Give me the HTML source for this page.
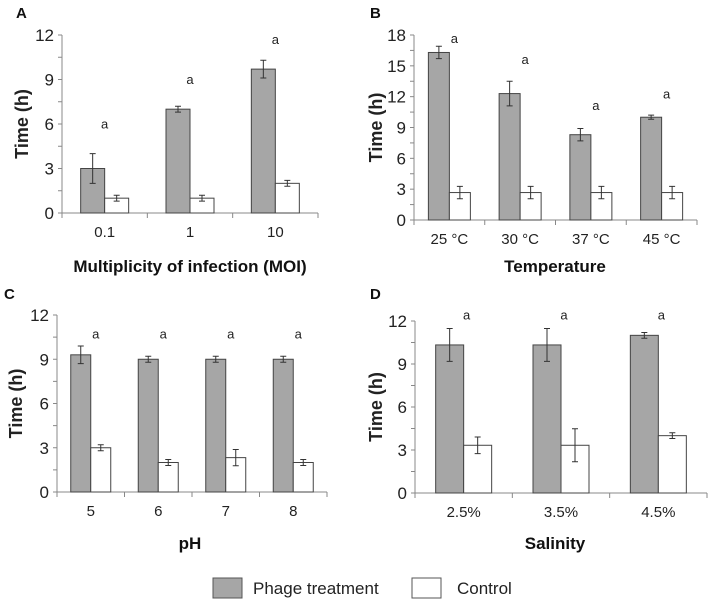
<!DOCTYPE html>
<html><head><meta charset="utf-8"><style>
body{margin:0;background:#fff;}
svg{display:block;font-family:"Liberation Sans",Arial,sans-serif;}
</style></head><body>
<svg id="fig" width="708" height="599" viewBox="0 0 708 599">
<g id="root"></g>
<g>
<rect x="213" y="578" width="29" height="20" fill="#a6a6a6" stroke="#555" stroke-width="1"/>
<text x="253" y="594" font-size="17" fill="#222">Phage treatment</text>
<rect x="412" y="578" width="29" height="20" fill="#fff" stroke="#555" stroke-width="1"/>
<text x="457" y="594" font-size="17" fill="#222">Control</text>
</g>
</svg>
<script>
// Panel A
const catsA = ["0.1","1","10"];
const phageA = [3,7,9.7];
const phageErrA = [1,0.2,0.6];
const ctrlA = [1,1,2];
const ctrlErrA = [0.2,0.2,0.2];
const sigA = [5.7,8.7,11.4];
const ticksA = [0,3,6,9,12];
// Panel B
const catsB = ["25 °C","30 °C","37 °C","45 °C"];
const phageB = [16.3,12.3,8.3,10];
const phageErrB = [0.6,1.2,0.6,0.2];
const ctrlB = [2.67,2.67,2.67,2.67];
const ctrlErrB = [0.6,0.6,0.6,0.6];
const sigB = [17.2,15.2,10.7,11.8];
const ticksB = [0,3,6,9,12,15,18];
// Panel C
const catsC = ["5","6","7","8"];
const phageC = [9.3,9,9,9];
const phageErrC = [0.6,0.2,0.2,0.2];
const ctrlC = [3,2,2.33,2];
const ctrlErrC = [0.2,0.2,0.55,0.2];
const sigC = [10.4,10.4,10.4,10.4];
const ticksC = [0,3,6,9,12];
// Panel D
const catsD = ["2.5%","3.5%","4.5%"];
const phageD = [10.33,10.33,11];
const phageErrD = [1.15,1.15,0.2];
const ctrlD = [3.33,3.33,4];
const ctrlErrD = [0.58,1.15,0.2];
const sigD = [12.1,12.1,12.1];
const ticksD = [0,3,6,9,12];

const NS="http://www.w3.org/2000/svg";
const root=document.getElementById('root');
function el(tag,attrs,parent,txt){const e=document.createElementNS(NS,tag);for(const k in attrs)e.setAttribute(k,attrs[k]);if(txt!==undefined)e.textContent=txt;parent.appendChild(e);return e;}

function panel(cfg){
  const g=el('g',{},root);
  
  
  const x0=cfg.x0,x1=cfg.x1,yTop=cfg.yTop,yBot=cfg.yBot;
  const maxV=cfg.ticks[cfg.ticks.length-1];
  const y=v=>yBot-(v/maxV)*(yBot-yTop);
  const n=cfg.cats.length,cw=(x1-x0)/n;
  const cx=i=>x0+cw*(i+0.5);
  const lt=el('text',{x:cfg.lx,y:cfg.ly,'font-size':15,'font-weight':'bold',fill:'#111'},g,cfg.id);
  
  
  const ya=el('line',{x1:x0,y1:yTop,x2:x0,y2:yBot,stroke:'#888','stroke-width':1},g);
  
  
  const step=cfg.ticks[1]-cfg.ticks[0];
  for(let v=0;v<=maxV+1e-9;v+=step/2){
    el('line',{x1:x0-4,y1:y(v),x2:x0,y2:y(v),stroke:'#888','stroke-width':1},g);
  }
  cfg.ticks.forEach(t=>{
    const tl=el('text',{x:x0-8,y:y(t)+6,'font-size':17,'text-anchor':'end',fill:'#222'},g,String(t));
    
    
  });
  const xa=el('line',{x1:x0,y1:yBot,x2:x1,y2:yBot,stroke:'#888','stroke-width':1},g);
  
  
  for(let i=0;i<=n;i++) el('line',{x1:x0+cw*i,y1:yBot,x2:x0+cw*i,y2:yBot+5,stroke:'#888','stroke-width':1},g);
  cfg.cats.forEach((c,i)=>{
    const tl=el('text',{x:cx(i),y:yBot+24,'font-size':15,'text-anchor':'middle',fill:'#222'},g,c);
    
    
    const bw=cfg.bw;
    const gb=el('rect',{x:cx(i)-bw,y:y(cfg.phage[i]),width:bw,height:yBot-y(cfg.phage[i]),fill:'#a6a6a6',stroke:'#444','stroke-width':1},g);
    
    
    const wb=el('rect',{x:cx(i),y:y(cfg.ctrl[i]),width:bw,height:yBot-y(cfg.ctrl[i]),fill:'#fff',stroke:'#444','stroke-width':1},g);
    
    
    [[cx(i)-bw/2,cfg.phage[i],cfg.phageErr[i]],[cx(i)+bw/2,cfg.ctrl[i],cfg.ctrlErr[i]]].forEach(([ex,v,e])=>{
      const eb=el('path',{d:`M${ex},${y(v+e)}V${y(v-e)}M${ex-3},${y(v+e)}H${ex+3}M${ex-3},${y(v-e)}H${ex+3}`,stroke:'#333','stroke-width':1,fill:'none'},g);
      
      
    });
    const s=el('text',{x:cx(i)+cfg.sigDx,y:y(cfg.sig[i]),'font-size':13,'text-anchor':'middle',fill:'#222'},g,'a');
    
    
  });
  const yt=el('text',{x:0,y:0,'font-size':18,'font-weight':'bold','text-anchor':'middle',fill:'#222',transform:`translate(${cfg.ytx},${(yTop+yBot)/2}) rotate(-90)`},g,'Time (h)');
  
  
  const xt=el('text',{x:cfg.xtx,y:cfg.xty,'font-size':17,'font-weight':'bold','text-anchor':'middle',fill:'#111'},g,cfg.xtitle);
  
  
}
panel({id:'A',x0:62,x1:318,yTop:35,yBot:213,cats:catsA,phage:phageA,phageErr:phageErrA,ctrl:ctrlA,ctrlErr:ctrlErrA,sig:sigA,ticks:ticksA,bw:24,sigDx:0,lx:16,ly:18,ytx:28,xtx:190,xty:272,xtitle:'Multiplicity of infection (MOI)'});
panel({id:'B',x0:414,x1:697,yTop:35,yBot:220,cats:catsB,phage:phageB,phageErr:phageErrB,ctrl:ctrlB,ctrlErr:ctrlErrB,sig:sigB,ticks:ticksB,bw:21,sigDx:5,lx:370,ly:18,ytx:382,xtx:555,xty:272,xtitle:'Temperature'});
panel({id:'C',x0:57,x1:327,yTop:315,yBot:492,cats:catsC,phage:phageC,phageErr:phageErrC,ctrl:ctrlC,ctrlErr:ctrlErrC,sig:sigC,ticks:ticksC,bw:20,sigDx:5,lx:4,ly:299,ytx:22,xtx:190,xty:549,xtitle:'pH'});
panel({id:'D',x0:415,x1:707,yTop:321,yBot:493,cats:catsD,phage:phageD,phageErr:phageErrD,ctrl:ctrlD,ctrlErr:ctrlErrD,sig:sigD,ticks:ticksD,bw:28,sigDx:3,lx:370,ly:299,ytx:382,xtx:555,xty:549,xtitle:'Salinity'});
</script>
</body></html>
